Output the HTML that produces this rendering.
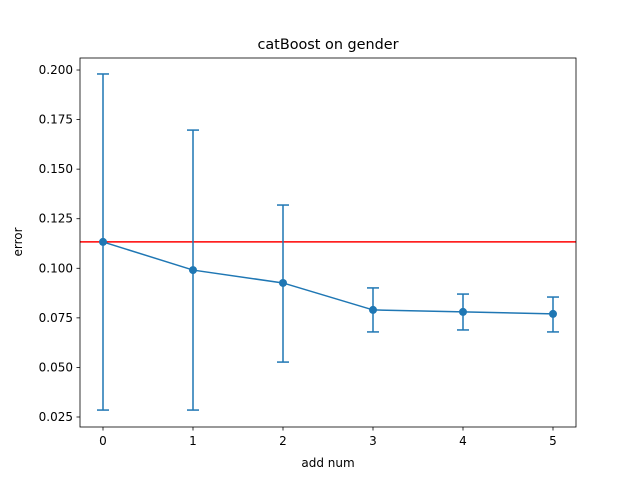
<!DOCTYPE html>
<html><head><meta charset="utf-8"><style>
body{margin:0;background:#fff;}
text{font-family:"DejaVu Sans","Liberation Sans",sans-serif;fill:#000;}
</style></head><body>
<svg id="chart" width="640" height="480" xmlns="http://www.w3.org/2000/svg">
<rect width="640" height="480" fill="#fff"/>
<text x="328" y="49" font-size="14.4" text-anchor="middle">catBoost on gender</text>
<text x="328" y="467" font-size="12" text-anchor="middle">add num</text>
<text transform="translate(22,242) rotate(-90)" font-size="12" text-anchor="middle">error</text>
<g id="ticks"></g>
<g id="marks"></g>
<rect x="80" y="58" width="496" height="369" fill="none" stroke="#000" stroke-width="0.8"/>
</svg>
<script>
const categories=[0,1,2,3,4,5];
const means=[0.1133,0.0991,0.0926,0.0790,0.0780,0.0770];
const upper=[0.198,0.1697,0.1319,0.0901,0.0870,0.0855];
const lower=[0.0285,0.0285,0.0527,0.0679,0.0689,0.0679];
const baseline=0.1133;
const yTicks=[0.025,0.050,0.075,0.100,0.125,0.150,0.175,0.200];
const yTickLabels=["0.025","0.050","0.075","0.100","0.125","0.150","0.175","0.200"];
const xTickLabels=["0","1","2","3","4","5"];
const NS="http://www.w3.org/2000/svg";
function X(v){return 103+v*90;}
function Y(v){return 417-(v-0.025)/0.025*49.57;}
function mk(tag,attrs,parent){const e=document.createElementNS(NS,tag);for(const k in attrs)e.setAttribute(k,attrs[k]);parent.appendChild(e);return e;}
const tg=document.getElementById('ticks'),mg=document.getElementById('marks');
yTicks.forEach((v,i)=>{
 const l=mk('line',{x1:76.5,x2:80,y1:Y(v),y2:Y(v),stroke:'#000','stroke-width':0.8},tg);
 
 
 const t=mk('text',{x:73,y:Y(v)+4,'font-size':12,'text-anchor':'end'},tg);t.textContent=yTickLabels[i];
 
 
});
categories.forEach((c,i)=>{
 const l=mk('line',{x1:X(c),x2:X(c),y1:427,y2:430.5,stroke:'#000','stroke-width':0.8},tg);
 
 
 const t=mk('text',{x:X(c),y:445,'font-size':12,'text-anchor':'middle'},tg);t.textContent=xTickLabels[i];
 
 
});
const bl=mk('line',{x1:80,x2:576,y1:Y(baseline),y2:Y(baseline),stroke:'#ff0000','stroke-width':1.5},mg);


const line=mk('polyline',{points:categories.map((c,i)=>X(c)+','+Y(means[i])).join(' '),fill:'none',stroke:'#1f77b4','stroke-width':1.5},mg);


categories.forEach((c,i)=>{
 const g=mk('g',{},mg);
 
 
 mk('line',{x1:X(c),x2:X(c),y1:Y(upper[i]),y2:Y(lower[i]),stroke:'#1f77b4','stroke-width':1.5},g);
 mk('line',{x1:X(c)-6,x2:X(c)+6,y1:Y(upper[i]),y2:Y(upper[i]),stroke:'#1f77b4','stroke-width':1.5},g);
 mk('line',{x1:X(c)-6,x2:X(c)+6,y1:Y(lower[i]),y2:Y(lower[i]),stroke:'#1f77b4','stroke-width':1.5},g);
 const p=mk('circle',{cx:X(c),cy:Y(means[i]),r:4,fill:'#1f77b4'},mg);
 
 
});
</script>
</body></html>
